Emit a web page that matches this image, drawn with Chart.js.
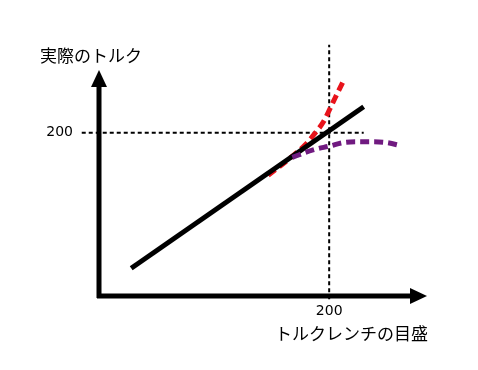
<!DOCTYPE html>
<html>
<head>
<meta charset="utf-8">
<script src="https://cdn.jsdelivr.net/npm/chart.js@4/dist/chart.umd.min.js"></script>
<style>
  body { margin: 0; background: #fff; }
  canvas { display: block; }
</style>
</head>
<body>
<canvas id="torqueChart" width="478" height="370"></canvas>
<script>
// 軸ラベル
const xTitle = "トルクレンチの目盛";
const yTitle = "実際のトルク";
const xTicks = [200];
const yTicks = [200];

// 理想線（目盛 = 実際）
const idealX = [28, 230];
const idealY = [34, 232];

// 赤：実際のトルクが大きくなる場合
const redX = [147, 166, 179, 188, 195, 203.5, 212];
const redY = [148, 169, 185, 200, 213.5, 238, 262.5];

// 紫：実際のトルクが頭打ちになる場合
const purpleX = [168, 186, 201, 212, 225, 237, 250, 263];
const purpleY = [170, 179, 184, 188, 189, 189, 188, 184];

// 200 の補助線
const hRefX = [-15, 230];
const hRefY = [200, 200];
const vRefX = [200, 200];
const vRefY = [-4, 308];

const toPoints = (xs, ys) => xs.map((x, i) => ({ x: x, y: ys[i] }));

const axesPlugin = {
  id: "axesPlugin",
  afterDatasetsDraw(chart) {
    const ctx = chart.ctx;
    const xs = chart.scales.x;
    const ys = chart.scales.y;
    const x0 = xs.getPixelForValue(0);
    const y0 = ys.getPixelForValue(0);
    const xEnd = xs.getPixelForValue(xs.max);
    const yEnd = ys.getPixelForValue(ys.max);

    ctx.save();
    ctx.strokeStyle = "#000";
    ctx.fillStyle = "#000";
    ctx.lineWidth = 5;
    ctx.lineCap = "butt";
    // 縦軸
    ctx.beginPath();
    ctx.moveTo(x0, y0 + 2);
    ctx.lineTo(x0, yEnd + 14);
    ctx.stroke();
    ctx.beginPath();
    ctx.moveTo(x0, yEnd);
    ctx.lineTo(x0 - 8, yEnd + 17);
    ctx.lineTo(x0 + 8, yEnd + 17);
    ctx.closePath();
    ctx.fill();
    // 横軸
    ctx.beginPath();
    ctx.moveTo(x0 - 2, y0);
    ctx.lineTo(xEnd - 14, y0);
    ctx.stroke();
    ctx.beginPath();
    ctx.moveTo(xEnd, y0);
    ctx.lineTo(xEnd - 17, y0 - 8);
    ctx.lineTo(xEnd - 17, y0 + 8);
    ctx.closePath();
    ctx.fill();

    // 目盛ラベル
    ctx.font = "14px 'DejaVu Sans', sans-serif";
    ctx.textBaseline = "middle";
    ctx.textAlign = "right";
    yTicks.forEach(v => ctx.fillText(String(v), x0 - 26, ys.getPixelForValue(v)));
    ctx.textAlign = "center";
    xTicks.forEach(v => ctx.fillText(String(v), xs.getPixelForValue(v), y0 + 15));

    // 軸タイトル
    ctx.font = "17px 'Noto Sans CJK JP', sans-serif";
    ctx.textAlign = "left";
    ctx.fillText(yTitle, 40, 56);
    ctx.textAlign = "right";
    ctx.fillText(xTitle, 428, 334);
    ctx.restore();
  }
};

const config = {
  type: "scatter",
  data: {
    datasets: [
      {
        data: toPoints(hRefX, hRefY),
        showLine: true,
        borderColor: "#000",
        borderWidth: 2,
        borderDash: [4, 3],
        pointRadius: 0,
        clip: false,
        order: 4,
      },
      {
        data: toPoints(vRefX, vRefY),
        showLine: true,
        borderColor: "#000",
        borderWidth: 2,
        borderDash: [4, 3],
        pointRadius: 0,
        clip: false,
        order: 4,
      },
      {
        data: toPoints(redX, redY),
        showLine: true,
        borderColor: "#e8131b",
        borderWidth: 5,
        borderDash: [9, 5],
        pointRadius: 0,
        cubicInterpolationMode: "monotone",
        clip: false,
        order: 3,
      },
      {
        data: toPoints(idealX, idealY),
        showLine: true,
        borderColor: "#000",
        borderWidth: 5,
        pointRadius: 0,
        order: 2,
      },
      {
        data: toPoints(purpleX, purpleY),
        showLine: true,
        borderColor: "#701a80",
        borderWidth: 5,
        borderDash: [9, 5],
        pointRadius: 0,
        cubicInterpolationMode: "monotone",
        clip: false,
        order: 1,
      },
    ],
  },
  options: {
    responsive: false,
    animation: false,
    layout: {
      padding: { left: 99, right: 51, top: 70, bottom: 74 },
    },
    plugins: {
      legend: { display: false },
      tooltip: { enabled: false },
    },
    scales: {
      x: { type: "linear", min: 0, max: 285, display: false },
      y: { type: "linear", min: 0, max: 277, display: false },
    },
  },
  plugins: [axesPlugin],
};

new Chart(document.getElementById("torqueChart").getContext("2d"), config);
</script>
</body>
</html>
